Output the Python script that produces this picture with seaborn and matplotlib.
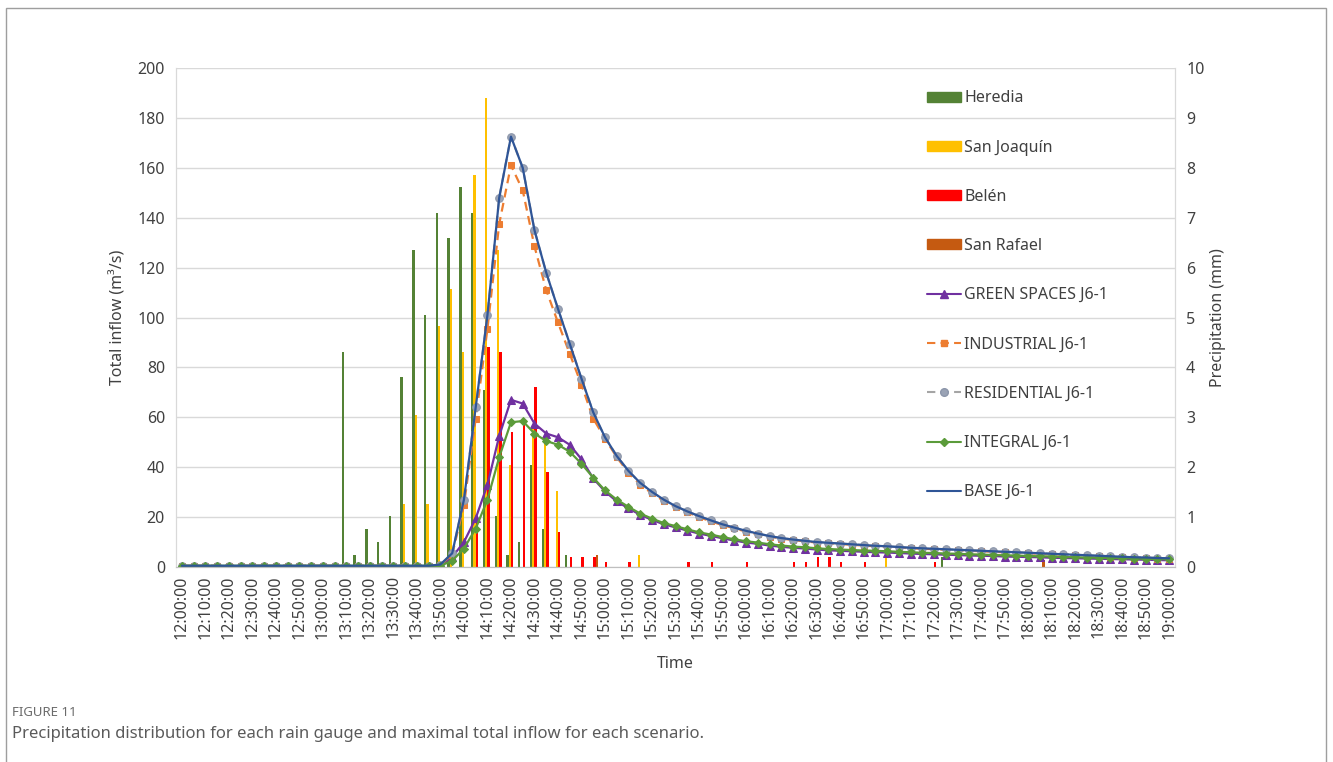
import numpy as np
import pandas as pd
import matplotlib
matplotlib.use('Agg')
import matplotlib.pyplot as plt
from matplotlib.patches import Patch, Rectangle
from matplotlib.lines import Line2D
import seaborn as sns

# time categories, 5 min steps
times = pd.date_range('2024-01-01 12:00', '2024-01-01 19:00', freq='5min').strftime('%H:%M:%S').tolist()

# precipitation (mm) per rain gauge
heredia = [0] * 14 + [4.31, 0.25, 0.76, 0.5, 1.02, 3.81, 6.35, 5.06, 7.10, 6.59, 7.62, 7.10, 3.54, 1.02,
                      0.25, 0.5, 2.04, 0.76, 0, 0.25] + [0] * 31 + [0.2] + [0] * 19
san_joaquin = [0] * 19 + [1.27, 3.04, 1.27, 4.83, 5.58, 4.30, 7.86, 9.40, 6.35, 2.04, 0, 2.8, 2.54, 1.52] \
    + [0] * 6 + [0.25] + [0] * 20 + [0.2] + [0] * 24
belen = [0] * 25 + [1.0, 4.40, 4.30, 2.70, 2.84, 3.61, 1.90, 0.70, 0.2, 0.2, 0.2, 0.1, 0, 0.1, 0, 0, 0, 0,
                    0.1, 0, 0.1, 0, 0, 0.1, 0, 0, 0, 0.1, 0.1, 0.2, 0.2, 0.1, 0, 0.1, 0, 0, 0, 0, 0, 0.1] + [0] * 20
san_rafael = [0] * 35 + [0.25] + [0] * 37 + [0.15] + [0] * 11

# total inflow (m3/s) per scenario
green_spaces = [0.3] * 23 + [4, 10, 19.5, 33, 52.5, 67, 65.5, 57.5, 53.5, 52, 49, 43.2, 35.5, 30.3, 26.3,
                             23.5, 20.9, 18.9, 17.1, 15.9, 14.6, 13.4, 12.5, 11.5, 10.6, 9.8, 9.3, 8.6, 8.1, 7.7,
                             7.4, 7.0, 6.7, 6.5, 6.3, 6.1, 5.9, 5.8, 5.6, 5.4, 5.2, 5.1, 4.9, 4.8, 4.6, 4.5, 4.4,
                             4.2, 4.1, 4.0, 3.9, 3.7, 3.6, 3.5, 3.4, 3.3, 3.2, 3.1, 3.0, 2.9, 2.8, 2.7]
industrial = [0.5] * 22 + [0.8, 5, 24.7, 59.5, 95.5, 137.5, 161, 151, 128.5, 111, 98, 85.5, 73, 59.5, 51.5, 44,
                           37.8, 33.0, 29.5, 26.5, 24.0, 21.9, 20.0, 18.3, 16.8, 15.5, 14.2, 13.1, 12.2, 11.4,
                           10.8, 10.3, 9.8, 9.5, 9.2, 8.9, 8.6, 8.3, 8.1, 7.8, 7.5, 7.3, 7.1, 6.9, 6.7, 6.5, 6.3,
                           6.1, 5.9, 5.7, 5.5, 5.3, 5.1, 4.9, 4.7, 4.5, 4.3, 4.1, 3.9, 3.7, 3.6, 3.4, 3.3]
residential = [0.5] * 22 + [1.0, 5.5, 27, 64, 101, 148, 172.5, 160, 135, 118, 103.5, 89.5, 75.5, 62, 52, 44.5,
                            38.5, 33.7, 30.1, 27.0, 24.4, 22.3, 20.4, 18.7, 17.1, 15.8, 14.5, 13.4, 12.4, 11.6,
                            11.0, 10.5, 10.0, 9.7, 9.4, 9.1, 8.8, 8.5, 8.3, 8.0, 7.7, 7.5, 7.3, 7.1, 6.9, 6.7, 6.5,
                            6.3, 6.1, 5.9, 5.7, 5.5, 5.3, 5.1, 4.9, 4.7, 4.5, 4.3, 4.1, 3.9, 3.8, 3.6, 3.5]
integral = [0.5] * 23 + [2.5, 7.4, 15.4, 27, 44, 58, 58.5, 53.5, 50.5, 49, 46.2, 41.4, 35.8, 30.7, 27.0,
                         24.1, 21.4, 19.4, 17.6, 16.4, 15.1, 13.9, 13.0, 12.0, 11.1, 10.3, 9.8, 9.1, 8.6, 8.2,
                         7.9, 7.5, 7.2, 7.0, 6.8, 6.6, 6.5, 6.3, 6.1, 5.9, 5.7, 5.6, 5.4, 5.3, 5.1, 5.0, 4.8,
                         4.7, 4.6, 4.4, 4.3, 4.2, 4.0, 3.9, 3.8, 3.7, 3.6, 3.5, 3.4, 3.3, 3.2, 3.1]
base = [0.5] * 22 + [1.0, 5.5, 27, 64, 101, 148, 172.5, 160, 135, 118, 103.5, 89.5, 75.5, 62, 52, 44.5,
                     38.5, 33.7, 30.1, 27.0, 24.4, 22.3, 20.4, 18.7, 17.1, 15.8, 14.5, 13.4, 12.4, 11.6,
                     11.0, 10.5, 10.0, 9.7, 9.4, 9.1, 8.8, 8.5, 8.3, 8.0, 7.7, 7.5, 7.3, 7.1, 6.9, 6.7, 6.5,
                     6.3, 6.1, 5.9, 5.7, 5.5, 5.3, 5.1, 4.9, 4.7, 4.5, 4.3, 4.1, 3.9, 3.8, 3.6, 3.5]

gauges = ['Heredia', 'San Joaquín', 'Belén', 'San Rafael']
gauge_colors = ['#548235', '#FFC000', '#FF0000', '#C55A11']

sns.set_style('white')
plt.rcParams['font.family'] = ['Noto Sans', 'DejaVu Sans']
txt = '#404040'

rain = pd.DataFrame({'time': times * 4,
                     'gauge': np.repeat(gauges, len(times)),
                     'mm': heredia + san_joaquin + belen + san_rafael})

fig = plt.figure(figsize=(13.33, 7.62), dpi=100)
ax = fig.add_axes([176 / 1333, 1 - 567 / 762, 999 / 1333, 499 / 762])
axb = ax.twinx()

# bars on the right axis
sns.barplot(data=rain, x='time', y='mm', hue='gauge', palette=gauge_colors, saturation=1,
            width=0.8, errorbar=None, legend=False, ax=axb, order=times, hue_order=gauges,
            edgecolor='none', linewidth=0)

idx = np.arange(len(times))
scen = [
    ('GREEN SPACES J6-1', green_spaces, dict(color='#7030A0', marker='^', markersize=6, linestyle='-')),
    ('INDUSTRIAL J6-1', industrial, dict(color='#ED7D31', marker='s', markersize=4.5, linestyle=(0, (4, 2.5)))),
    ('RESIDENTIAL J6-1', residential, dict(color='#A5A5A5', marker='o', markersize=5.5, linestyle=(0, (4, 2.5)),
                                           markerfacecolor='#9AA3B5', markeredgecolor='#8C96AA')),
    ('INTEGRAL J6-1', integral, dict(color='#5B9B3A', marker='D', markersize=4, linestyle='-')),
    ('BASE J6-1', base, dict(color='#2F5597', linestyle='-')),
]
for name, vals, kw in scen:
    kw.setdefault('markeredgecolor', kw['color'])
    sns.lineplot(x=idx, y=vals, ax=ax, linewidth=1.6, **kw)

ax.set_zorder(axb.get_zorder() + 1)
ax.patch.set_visible(False)

ax.set_xlim(-0.5, len(times) - 0.5)
ax.set_ylim(0, 200)
axb.set_ylim(0, 10)
ax.set_yticks(range(0, 201, 20))
axb.set_yticks(range(0, 11, 1))
ax.set_xticks(idx[::2])
ax.set_xticklabels(times[::2], rotation=90)
axb.set_xlabel('')
axb.set_ylabel('')

axb.yaxis.grid(True, color='#D9D9D9', linewidth=1)
ax.tick_params(axis='y', length=0, labelsize=11.5, colors=txt, pad=8)
ax.tick_params(axis='x', length=0, labelsize=11.5, colors=txt, pad=6)
axb.tick_params(axis='y', length=0, labelsize=11.5, colors=txt, pad=8)
for a in (ax, axb):
    a.spines['top'].set_visible(False)
    for s in ('left', 'right', 'bottom'):
        a.spines[s].set_color('#D9D9D9')
ax.spines['bottom'].set_color('#BFBFBF')

ax.set_xlabel('Time', fontsize=11.5, color=txt, labelpad=12)
ax.set_ylabel('Total inflow (m³/s)', fontsize=11.5, color=txt, labelpad=8)
axb.set_ylabel('Precipitation (mm)', fontsize=11.5, color=txt, labelpad=4)

handles = [Patch(color=c, label=g) for g, c in zip(gauges, gauge_colors)]
for name, vals, kw in scen:
    handles.append(Line2D([], [], label=name, linewidth=1.5, **kw))
fig.legend(handles=handles, loc='upper left', bbox_to_anchor=(913 / 1333, 1 - 76 / 762),
           frameon=False, fontsize=11.5, labelspacing=2.08, handlelength=2.1, handleheight=0.6,
           handletextpad=0.2, labelcolor=txt)

# frame and caption
fig.add_artist(Rectangle((6 / 1333, -0.01), 1320 / 1333, 1 - 8 / 762 + 0.01, transform=fig.transFigure,
                         fill=False, edgecolor='#9E9E9E', linewidth=1))
fig.text(12 / 1333, 1 - 713 / 762, 'FIGURE 11', fontsize=9.5, color='#6b6b6b', va='center')
fig.text(12 / 1333, 1 - 734 / 762,
         'Precipitation distribution for each rain gauge and maximal total inflow for each scenario.',
         fontsize=12, color='#5a5a5a', va='center')

fig.savefig('out.png', dpi=100)
